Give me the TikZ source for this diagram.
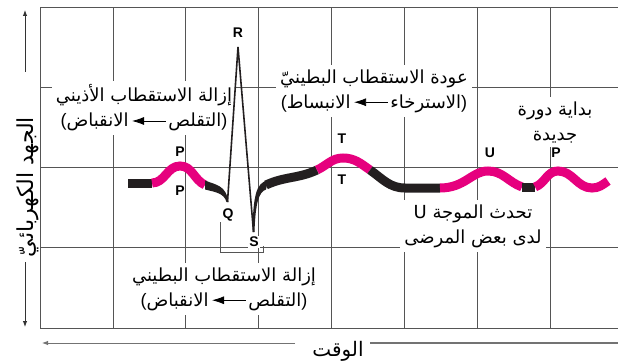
\documentclass[tikz,border=0pt]{standalone}
\usepackage{fontspec}
\newfontfamily\arfont[Script=Arabic]{DejaVu Sans}
\newfontfamily\latfont{Liberation Sans}
\TeXXeTstate=1
\usetikzlibrary{arrows.meta}
\definecolor{ecgmagenta}{RGB}{230,0,126}
\definecolor{ecgdark}{RGB}{35,31,32}
\definecolor{gridgray}{RGB}{85,85,85}
\newcommand{\txtarrow}{\kern3pt\tikz[baseline=-0.6ex]\draw[line width=0.8pt,{Latex[length=12pt,width=8pt]}-] (0pt,0pt) -- (34pt,0pt);\kern2pt}
\newcommand{\lpar}{{\latfont(}}
\newcommand{\rpar}{{\latfont)}}

\begin{document}
\begin{tikzpicture}[x=1pt,y=1pt,
  gridline/.style={draw=gridgray, line width=0.8pt},
  pinkwave/.style={draw=ecgmagenta, line width=9pt},
  darkwave/.style={draw=ecgdark, line width=9pt},
  spike/.style={draw=ecgdark, line width=1.6pt, line join=miter},
  arlabel/.style={fill=white, inner sep=4pt, align=center, font=\arfont\fontsize{18}{25}\selectfont},
  wavelabel/.style={inner sep=1pt, font=\latfont\bfseries\fontsize{14}{14}\selectfont},
  axisline/.style={line width=0.9pt, draw=black!80, -{Latex[length=6pt,width=4.5pt]}}]
 \useasboundingbox (0,0) rectangle (618,362);
 %grid
	\def\gx{72.9};
	\def\gy{80.25};
    \foreach \i in {0,...,7} {
         \draw[gridline] (40+\i*\gx,34) -- (40+\i*\gx,355);
    }
    \foreach \j in {0,...,4} {
         \draw[gridline] (40,34+\j*\gy) -- (618,34+\j*\gy);
    }
 %bracket under QRS
     \draw[draw=gridgray, line width=0.8pt] (220,140) -- (220,110) -- (263,110) -- (263,116);

 %labels on the grid
     \node[arlabel] (atrial) at (144,254) {\beginR إزالة الاستقطاب الأذيني\endR\\\lpar الانقباض\txtarrow التقلص\rpar};
     \node[arlabel] (repol) at (374,271) {\beginR عودة الاستقطاب البطينيّ\endR\\\lpar الانبساط\txtarrow الاسترخاء\rpar};
     \node[arlabel] (newcycle) at (555,240) {\beginR بداية دورة\endR\\جديدة};
     \node[arlabel] (uwave) at (473,136) {\beginR تحدث الموجة \beginL U\endL\endR\\\beginR لدى بعض المرضى\endR};
     \node[arlabel] (ventric) at (224,73) {\beginR إزالة الاستقطاب البطيني\endR\\\lpar الانقباض\txtarrow التقلص\rpar};

 %wave letters
    \foreach \x/\y/\t/\name in {238/329/R/r, 180/210/P/p1, 180/171/P/p2, 228/147/Q/q, 342/223/T/t1, 342/182/T/t2, 490/209/U/u, 556/209/P/p3} {
         \node[wavelabel] (\name) at (\x,\y) {\t};
    }
     \node[wavelabel, fill=white] (s) at (254,120) {S};

 %curve
     \draw[darkwave] (128,179) -- (152,179);
     \draw[pinkwave] (152,179) to[out=0,in=180] (180,196) to[out=0,in=155] (205,177);
     \fill[ecgdark] (205,181.5) .. controls (216,177) and (226,177) .. (228.5,160) -- (226.5,160) .. controls (224,169) and (215,170) .. (205,172.5) -- cycle;
     \draw[spike] (227.5,160) -- (238,315) -- (253.5,130);
     \fill[ecgdark] (252.5,130) .. controls (253,165) and (256,180) .. (268,181.5) -- (266,172.5) .. controls (259,170) and (255.5,160) .. (254.5,130) -- cycle;
     \draw[darkwave] (266,177) to[out=25,in=205] (317,192);
     \draw[pinkwave] (317,192) to[out=25,in=180] (343,204) to[out=0,in=145] (370,192);
     \draw[darkwave] (370,192) to[out=-35,in=180] (405,174) -- (440,174);
     \draw[pinkwave] (440,174) .. controls (465,174) and (472,191) .. (488,191) to[out=0,in=160] (522,175);
     \draw[darkwave] (522,175) -- (535,175);
     \draw[pinkwave] (535,175) to[out=20,in=180] (558,191) to[out=0,in=180] (592,174) to[out=0,in=215] (608,181);

 %axes
     \node[font=\arfont\fontsize{22}{22}\selectfont, rotate=90] (vaxis) at (28,175) {\beginR الجهد الكهربائيّ\endR};
     \coordinate (vtop) at (25,352);
     \coordinate (vtopfoot) at (25,290);
     \coordinate (vbot) at (25,35);
     \coordinate (vbotfoot) at (25,100);
     \draw[axisline] (vtopfoot) -- (vtop);
     \draw[axisline] (vbotfoot) -- (vbot);
     \node[font=\arfont\fontsize{20}{20}\selectfont] (taxis) at (338,11) {الوقت};
     \coordinate (tleft) at (42,19);
     \coordinate (tleftfoot) at (295,19);
     \coordinate (tright) at (618,19);
     \coordinate (trightfoot) at (370,19);
     \draw[axisline, draw=black!55] (tleftfoot) -- (tleft);
     \draw[line width=1.2pt, draw=black!55] (trightfoot) -- (tright);
\end{tikzpicture}
\end{document}
